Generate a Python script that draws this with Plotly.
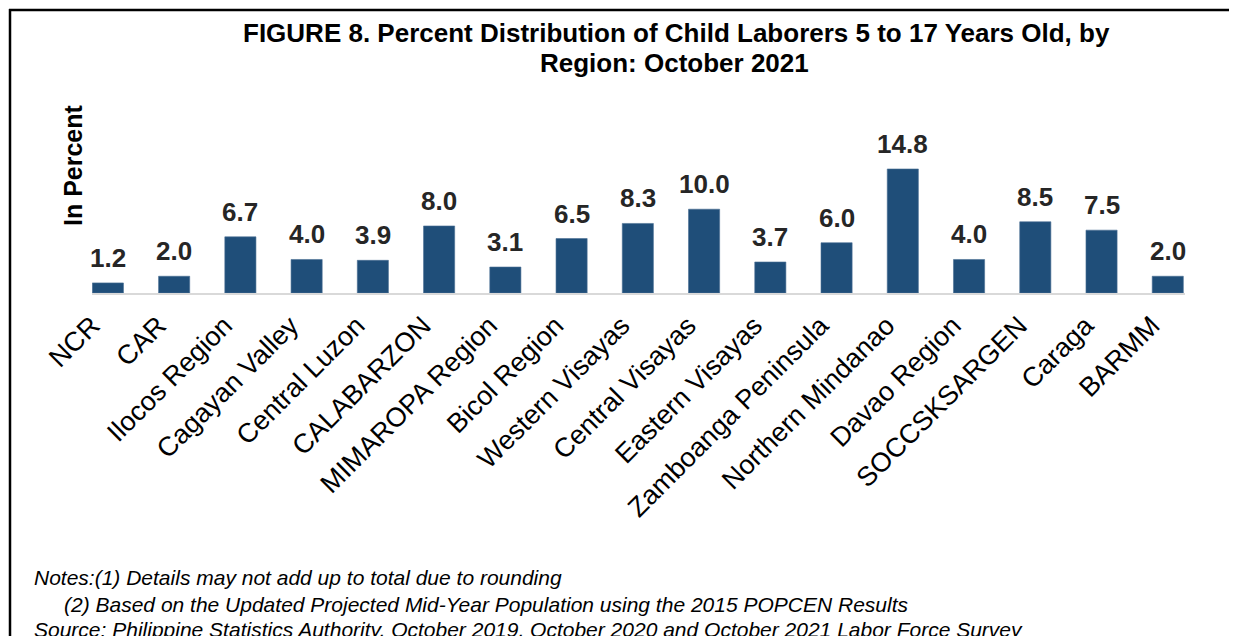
import plotly.graph_objects as go

regions = ["NCR", "CAR", "Ilocos Region", "Cagayan Valley", "Central Luzon", "CALABARZON",
           "MIMAROPA Region", "Bicol Region", "Western Visayas", "Central Visayas",
           "Eastern Visayas", "Zamboanga Peninsula", "Northern Mindanao", "Davao Region",
           "SOCCSKSARGEN", "Caraga", "BARMM"]
percent = [1.2, 2.0, 6.7, 4.0, 3.9, 8.0, 3.1, 6.5, 8.3, 10.0, 3.7, 6.0, 14.8, 4.0, 8.5, 7.5, 2.0]

title_lines = ["FIGURE 8. Percent Distribution of Child Laborers 5 to 17 Years Old, by",
               "Region: October 2021"]
y_title = "In Percent"
notes = [
    "Notes:(1) Details may not add up to total due to rounding",
    "(2) Based on the Updated Projected Mid-Year Population using the 2015 POPCEN Results",
    "Source: Philippine Statistics Authority, October 2019, October 2020 and October 2021 Labor Force Survey",
]

OFF = 8                      # default page body margin
W, H = 1237 - OFF, 636 - OFF
# plot area in target-picture pixels
L, R = 92, 1185
T, B = 159, 293
PW, PH = R - L, B - T
FONT = "Liberation Sans, Arial, sans-serif"


def px_x(px):
    return (px - L) / PW


def px_y(py):
    return (B - py) / PH


fig = go.Figure()
fig.add_trace(go.Bar(
    x=list(range(len(regions))), y=percent,
    marker=dict(color="#1f4e79", line=dict(color="#4a6f94", width=0.6)),
    width=0.47, hoverinfo="x+y",
))

annotations = []
for i, v in enumerate(percent):
    annotations.append(dict(
        x=i, y=v, xref="x", yref="y", text=f"<b>{v:.1f}</b>", showarrow=False,
        yanchor="bottom", xanchor="center", yshift=8,
        font=dict(family=FONT, size=26, color="#262626"),
    ))

for (cx, cy), t in zip([(676, 33), (674, 63)], title_lines):
    annotations.append(dict(
        x=px_x(cx), y=px_y(cy), xref="paper", yref="paper", text=f"<b>{t}</b>",
        showarrow=False, xanchor="center", yanchor="middle",
        font=dict(family=FONT, size=26, color="black"),
    ))

annotations.append(dict(
    x=px_x(73), y=px_y(165), xref="paper", yref="paper", text=f"<b>{y_title}</b>",
    showarrow=False, textangle=-90, xanchor="center", yanchor="middle",
    font=dict(family=FONT, size=25, color="black"),
))

note_pos = [(32, 577), (62, 604), (32, 629)]
for (nx, ny), t in zip(note_pos, notes):
    annotations.append(dict(
        x=px_x(nx), y=px_y(ny), xref="paper", yref="paper", text=f"<i>{t}</i>",
        showarrow=False, xanchor="left", yanchor="middle",
        font=dict(family=FONT, size=21, color="black"),
    ))

shapes = [
    dict(type="line", xref="paper", yref="paper", x0=px_x(9), x1=px_x(1250),
         y0=px_y(10), y1=px_y(10), line=dict(color="black", width=2.5)),
    dict(type="line", xref="paper", yref="paper", x0=px_x(10), x1=px_x(10),
         y0=px_y(9), y1=px_y(650), line=dict(color="black", width=2.5)),
]

fig.update_layout(
    width=W, height=H,
    margin=dict(l=L - OFF, r=1237 - R, t=T - OFF, b=636 - B, pad=0),
    paper_bgcolor="white", plot_bgcolor="white",
    showlegend=False,
    xaxis=dict(
        tickmode="array", tickvals=list(range(len(regions))), ticktext=regions,
        tickangle=-45, range=[-0.24, 16.26], showgrid=False, zeroline=False,
        showline=True, linecolor="#d9d9d9", linewidth=2, ticks="",
        ticklabelshift=-16, ticklabelstandoff=4,
        tickfont=dict(family=FONT, size=27, color="black"),
    ),
    yaxis=dict(range=[0, PH / 8.38], showticklabels=False, showgrid=False,
               zeroline=False, showline=False, ticks=""),
    annotations=annotations, shapes=shapes,
    font=dict(family=FONT),
)

fig.write_html("out.html")
